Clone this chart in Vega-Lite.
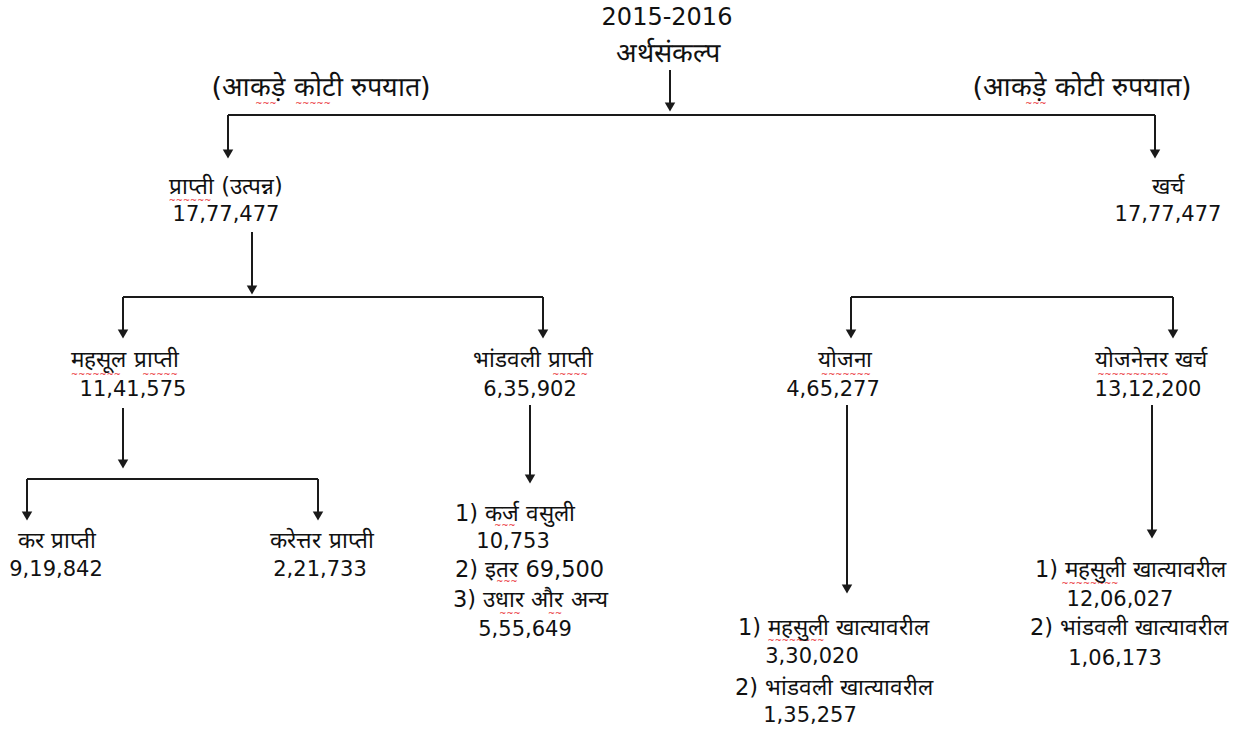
{
  "$schema": "https://vega.github.io/schema/vega-lite/v6.json",
  "width": 1249,
  "height": 732,
  "padding": 0,
  "autosize": {"type": "none"},
  "background": "white",
  "config": {"view": {"stroke": null}},
  "datasets": {
    "lines": [
      {"x": 670, "y": 70, "x2": 670, "y2": 110},
      {"x": 228, "y": 115, "x2": 1155, "y2": 115},
      {"x": 228, "y": 115, "x2": 228, "y2": 157},
      {"x": 1155, "y": 115, "x2": 1155, "y2": 157},
      {"x": 252, "y": 232, "x2": 252, "y2": 293},
      {"x": 123, "y": 297, "x2": 543, "y2": 297},
      {"x": 123, "y": 297, "x2": 123, "y2": 337},
      {"x": 543, "y": 297, "x2": 543, "y2": 337},
      {"x": 851, "y": 297, "x2": 1173, "y2": 297},
      {"x": 851, "y": 297, "x2": 851, "y2": 337},
      {"x": 1173, "y": 297, "x2": 1173, "y2": 337},
      {"x": 123, "y": 408, "x2": 123, "y2": 467},
      {"x": 27, "y": 479, "x2": 318, "y2": 479},
      {"x": 27, "y": 479, "x2": 27, "y2": 519},
      {"x": 318, "y": 479, "x2": 318, "y2": 519},
      {"x": 530, "y": 405, "x2": 530, "y2": 482},
      {"x": 847, "y": 405, "x2": 847, "y2": 592},
      {"x": 1152, "y": 405, "x2": 1152, "y2": 537}
    ],
    "arrows": [
      {"x": 670, "y": 113}, {"x": 228, "y": 160}, {"x": 1155, "y": 160},
      {"x": 252, "y": 296}, {"x": 123, "y": 340}, {"x": 543, "y": 340},
      {"x": 851, "y": 340}, {"x": 1173, "y": 340}, {"x": 123, "y": 470},
      {"x": 27, "y": 522}, {"x": 318, "y": 522}, {"x": 530, "y": 485},
      {"x": 847, "y": 595}, {"x": 1152, "y": 540}
    ],
    "squiggles": [
      {"x": 266, "y": 103, "wave": "~~~"},
      {"x": 313, "y": 103, "wave": "~~~~~"},
      {"x": 1036, "y": 103, "wave": "~~~"},
      {"x": 190, "y": 200, "wave": "~~~~~~"},
      {"x": 96, "y": 374, "wave": "~~~~~~~"},
      {"x": 160, "y": 374, "wave": "~~~~~"},
      {"x": 570, "y": 374, "wave": "~~~~~"},
      {"x": 846, "y": 374, "wave": "~~~~~~~"},
      {"x": 1133, "y": 374, "wave": "~~~~~~~~~~"},
      {"x": 505, "y": 525, "wave": "~~~"},
      {"x": 507, "y": 581, "wave": "~~~"},
      {"x": 510, "y": 613, "wave": "~~~"},
      {"x": 555, "y": 613, "wave": "~~"},
      {"x": 1090, "y": 583, "wave": "~~~~~~~~"},
      {"x": 796, "y": 640, "wave": "~~~~~~~~"}
    ],
    "labels": [
      {"x": 667, "y": 18, "text": "2015-2016", "kind": "title"},
      {"x": 668, "y": 54, "text": "अर्थसंकल्प", "kind": "header"},
      {"x": 321, "y": 88, "text": "(आकड़े कोटी रुपयात)", "kind": "header"},
      {"x": 1082, "y": 88, "text": "(आकड़े कोटी रुपयात)", "kind": "header"},
      {"x": 226, "y": 187, "text": "प्राप्ती (उत्पन्न)", "kind": "name"},
      {"x": 226, "y": 215, "text": "17,77,477", "kind": "value"},
      {"x": 1168, "y": 187, "text": "खर्च", "kind": "name"},
      {"x": 1168, "y": 215, "text": "17,77,477", "kind": "value"},
      {"x": 125, "y": 360, "text": "महसूल  प्राप्ती", "kind": "name"},
      {"x": 133, "y": 390, "text": "11,41,575", "kind": "value"},
      {"x": 533, "y": 360, "text": "भांडवली प्राप्ती", "kind": "name"},
      {"x": 530, "y": 390, "text": "6,35,902", "kind": "value"},
      {"x": 845, "y": 360, "text": "योजना", "kind": "name"},
      {"x": 833, "y": 390, "text": "4,65,277", "kind": "value"},
      {"x": 1151, "y": 360, "text": "योजनेत्तर खर्च", "kind": "name"},
      {"x": 1148, "y": 390, "text": "13,12,200", "kind": "value"},
      {"x": 57, "y": 541, "text": "कर प्राप्ती", "kind": "name"},
      {"x": 56, "y": 570, "text": "9,19,842", "kind": "value"},
      {"x": 322, "y": 541, "text": "करेत्तर प्राप्ती", "kind": "name"},
      {"x": 320, "y": 570, "text": "2,21,733", "kind": "value"},
      {"x": 455, "y": 514, "text": "1) कर्ज वसुली", "kind": "item"},
      {"x": 513, "y": 542, "text": "10,753", "kind": "value"},
      {"x": 455, "y": 570, "text": "2) इतर 69,500", "kind": "item"},
      {"x": 453, "y": 600, "text": "3) उधार और अन्य", "kind": "item"},
      {"x": 525, "y": 630, "text": "5,55,649", "kind": "value"},
      {"x": 738, "y": 628, "text": "1) महसुली खात्यावरील", "kind": "item"},
      {"x": 812, "y": 657, "text": "3,30,020", "kind": "value"},
      {"x": 735, "y": 688, "text": "2) भांडवली खात्यावरील", "kind": "item"},
      {"x": 810, "y": 716, "text": "1,35,257", "kind": "value"},
      {"x": 1035, "y": 570, "text": "1) महसुली खात्यावरील", "kind": "item"},
      {"x": 1120, "y": 600, "text": "12,06,027", "kind": "value"},
      {"x": 1030, "y": 628, "text": "2) भांडवली खात्यावरील", "kind": "item"},
      {"x": 1115, "y": 659, "text": "1,06,173", "kind": "value"}
    ]
  },
  "layer": [
    {
      "data": {"name": "lines"},
      "mark": {"type": "rule", "color": "#1a1a1a", "strokeWidth": 2},
      "encoding": {
        "x": {"field": "x", "type": "quantitative", "scale": {"domain": [0, 1249]}, "axis": null},
        "y": {"field": "y", "type": "quantitative", "scale": {"domain": [0, 732], "reverse": true}, "axis": null},
        "x2": {"field": "x2"},
        "y2": {"field": "y2"}
      }
    },
    {
      "data": {"name": "arrows"},
      "mark": {"type": "point", "shape": "triangle-down", "filled": true, "color": "#1a1a1a", "opacity": 1, "size": 110, "yOffset": -6},
      "encoding": {
        "x": {"field": "x", "type": "quantitative", "scale": {"domain": [0, 1249]}, "axis": null},
        "y": {"field": "y", "type": "quantitative", "scale": {"domain": [0, 732], "reverse": true}, "axis": null}
      }
    },
    {
      "data": {"name": "squiggles"},
      "mark": {"type": "text", "align": "center", "baseline": "middle", "font": "DejaVu Sans", "fontSize": 8.5, "color": "#e8161b"},
      "encoding": {
        "x": {"field": "x", "type": "quantitative", "scale": {"domain": [0, 1249]}, "axis": null},
        "y": {"field": "y", "type": "quantitative", "scale": {"domain": [0, 732], "reverse": true}, "axis": null},
        "text": {"field": "wave"}
      }
    },
    {
      "data": {"name": "labels"},
      "transform": [{"filter": "datum.kind !== 'item'"}],
      "mark": {"type": "text", "align": "center", "baseline": "middle", "font": "DejaVu Sans", "color": "#111"},
      "encoding": {
        "x": {"field": "x", "type": "quantitative", "scale": {"domain": [0, 1249]}, "axis": null},
        "y": {"field": "y", "type": "quantitative", "scale": {"domain": [0, 732], "reverse": true}, "axis": null},
        "text": {"field": "text"},
        "size": {
          "condition": [
            {"test": "datum.kind === 'title'", "value": 24},
            {"test": "datum.kind === 'header'", "value": 27},
            {"test": "datum.kind === 'value'", "value": 21}
          ],
          "value": 22.5
        }
      }
    },
    {
      "data": {"name": "labels"},
      "transform": [{"filter": "datum.kind === 'item'"}],
      "mark": {"type": "text", "align": "left", "baseline": "middle", "font": "DejaVu Sans", "fontSize": 22.5, "color": "#111"},
      "encoding": {
        "x": {"field": "x", "type": "quantitative", "scale": {"domain": [0, 1249]}, "axis": null},
        "y": {"field": "y", "type": "quantitative", "scale": {"domain": [0, 732], "reverse": true}, "axis": null},
        "text": {"field": "text"}
      }
    }
  ]
}
